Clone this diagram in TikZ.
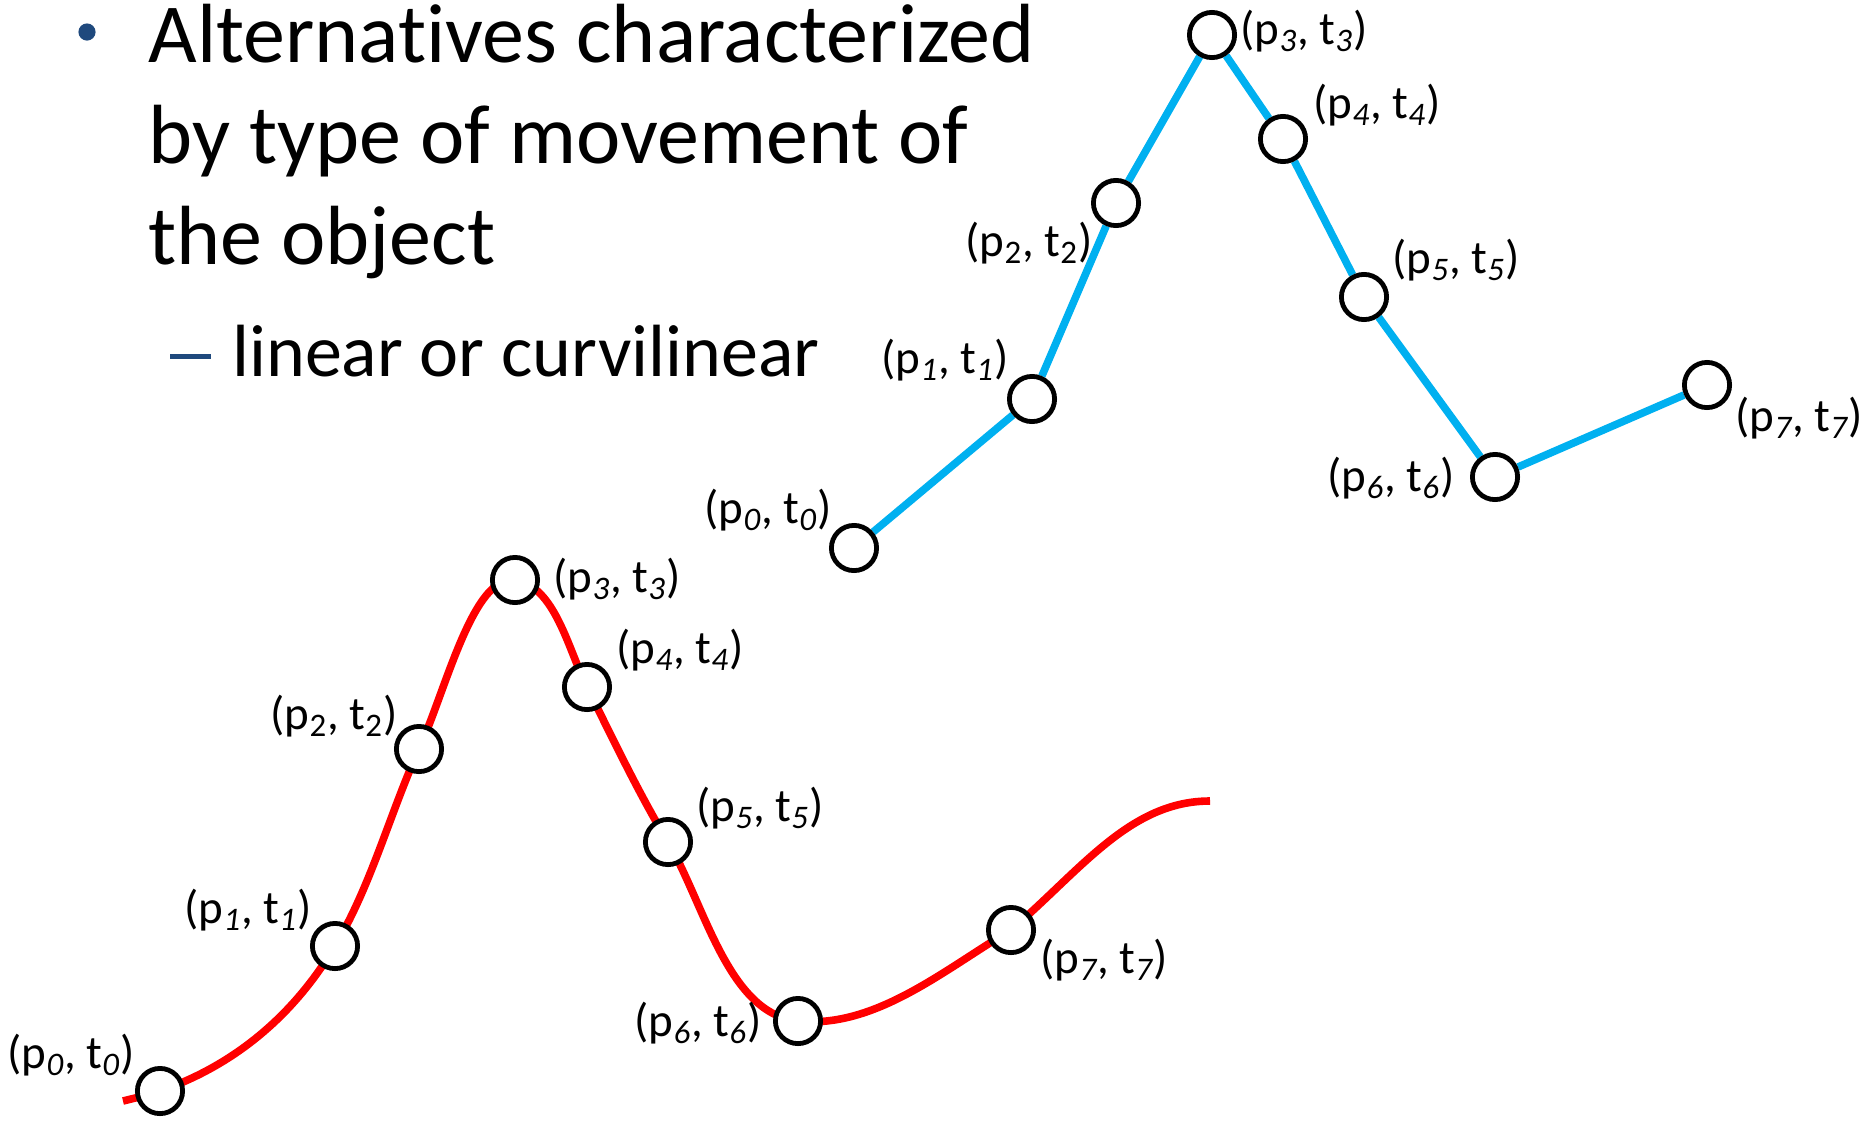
\documentclass[tikz,border=0pt]{standalone}
\usepackage{fontspec}
\setmainfont[Ligatures=NoCommon]{Carlito}
\usetikzlibrary{backgrounds}
\definecolor{trackblue}{HTML}{00B0F0}
\definecolor{bulletblue}{HTML}{1F497D}
\newcommand{\ptsub}[1]{\textsubscript{\ifnum#1=2\relax\else\itshape\fi#1}}
\newcommand{\ptlabel}[1]{(p\ptsub{#1}, t\ptsub{#1})}

\begin{document}
\begin{tikzpicture}[x=0.5pt, y=-0.5pt,
  station/.style={circle, draw=black, line width=2.4pt, fill=white, minimum size=22.6pt, inner sep=0pt},
  lbl/.style={font=\fontsize{23.5}{28}\selectfont, inner sep=0pt},
  headline/.style={font=\fontsize{42}{50}\selectfont, inner sep=0pt, anchor=base west},
  subline/.style={font=\fontsize{37}{44}\selectfont, inner sep=0pt, anchor=base west},
  track/.style={line width=3.8pt}]
  \useasboundingbox (0,0) rectangle (1868,1120);
  % bullet text
  \fill[bulletblue] (87,32) circle (4.3pt);
  \node[headline] (line1) at (148,62) {Alternatives characterized};
  \node[headline] (line2) at (148,163) {by type of movement of};
  \node[headline] (line3) at (148,264) {the object};
  \draw[bulletblue, line width=2.5pt] (170,356) -- (211,356);
  \node[subline] (line4) at (232,376) {linear or curvilinear};
  % linear movement
  \foreach \i/\x/\y/\lx/\ly in {0/854/548/768/510, 1/1032/399/945/360, 2/1116/203/1029/243,
      3/1212/35/1304/31, 4/1283/139/1377/105, 5/1364/297/1456/260,
      6/1495/477/1391/478, 7/1707/385/1799/418}{
    \node[station] (b\i) at (\x,\y) {};
    \node[lbl] (bl\i) at (\lx,\ly) {\ptlabel{\i}};
  }
  % curvilinear movement
  \foreach \i/\x/\y/\lx/\ly in {0/160/1091/71/1055, 1/335/946/248/910, 2/419/749/334/716,
      3/515/580/617/579, 4/587/687/680/650, 5/668/842/760/808,
      6/798/1021/698/1023, 7/1011/930/1104/960}{
    \node[station] (r\i) at (\x,\y) {};
    \node[lbl] (rl\i) at (\lx,\ly) {\ptlabel{\i}};
  }
  \coordinate (rstart) at (123,1101);
  \coordinate (rend) at (1210,801);
  \begin{scope}[on background layer]
    \draw[trackblue, track] (b0) -- (b1) -- (b2) -- (b3) -- (b4) -- (b5) -- (b6) -- (b7);
    \draw[red, track] (rstart) .. controls +(12,-3) and +(-12,4) .. (r0.center)
      .. controls +(75,-26) and +(-41,69) .. (r1.center)
      .. controls +(36,-60) and +(-29,64) .. (r2.center)
      .. controls +(27,-59) and +(-42,-6) .. (r3.center)
      .. controls +(40,6) and +(-19,-38) .. (r4.center)
      .. controls +(26,52) and +(-30,-50) .. (r5.center)
      .. controls +(37,63) and +(-70,-7) .. (r6.center)
      .. controls +(77,8) and +(-66,39) .. (r7.center)
      .. controls +(70,-60) and +(-80,0) .. (rend);
  \end{scope}
\end{tikzpicture}
\end{document}
